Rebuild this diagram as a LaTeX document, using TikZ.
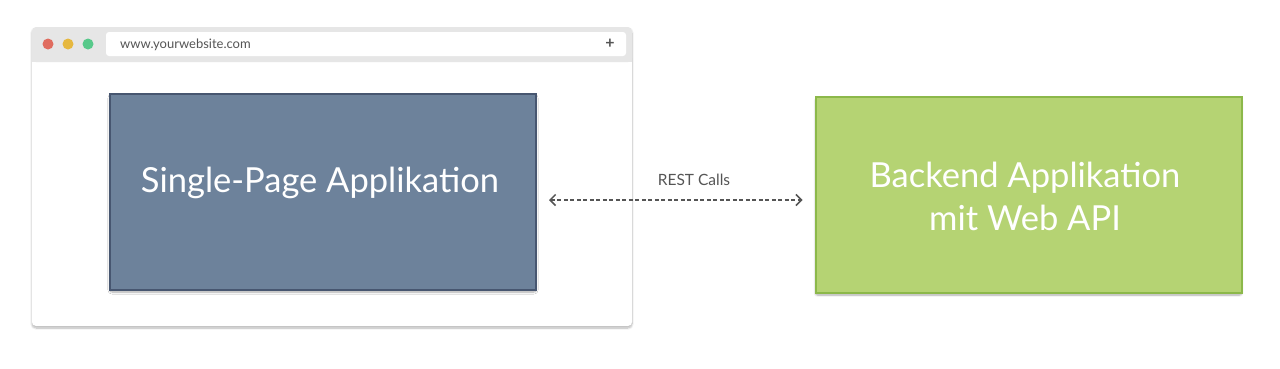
\documentclass[tikz,border=0pt]{standalone}
\usepackage{fontspec}
\setmainfont{Lato}
\usetikzlibrary{shadows.blur,arrows.meta}
\definecolor{spa}{HTML}{6D829B}
\definecolor{spaborder}{HTML}{475670}
\definecolor{be}{HTML}{B5D373}
\definecolor{beborder}{HTML}{8CB84A}
\definecolor{hdr}{HTML}{E6E6E6}
\definecolor{dred}{HTML}{E06C5F}
\definecolor{dyel}{HTML}{E6B83F}
\definecolor{dgrn}{HTML}{57C98A}
\definecolor{txtgray}{HTML}{555555}
\tikzset{
  mainbox/.style={draw, line width=2pt, minimum width=426pt, minimum height=196pt, inner sep=0pt,
    blur shadow={shadow xshift=0pt, shadow yshift=-2pt, shadow blur steps=8, shadow blur extra rounding=2pt, shadow opacity=35}},
  boxtext/.style={inner sep=0pt, font=\fontsize{34.5}{43}\selectfont, text=white, align=center},
  dot/.style={circle, inner sep=0pt, minimum size=11pt},
}
\begin{document}
\begin{tikzpicture}[x=1pt,y=-1pt]
\useasboundingbox (0,0) rectangle (1280,368);
% browser window
\node[fill=white, rounded corners=4pt, minimum width=600pt, minimum height=299pt, inner sep=0pt,
  blur shadow={shadow xshift=0pt, shadow yshift=-2pt, shadow blur steps=8, shadow opacity=30}] (win) at (332,176.5) {};
\fill[hdr, rounded corners=4pt] (32,27) rectangle (632,62);
\fill[hdr] (32,50) rectangle (632,62);
\node[fill=white, rounded corners=3pt, minimum width=520pt, minimum height=24pt, inner sep=0pt] (addr) at (366,44) {};
\node[dot, fill=dred] (d1) at (48,44) {};
\node[dot, fill=dyel] (d2) at (68,44) {};
\node[dot, fill=dgrn] (d3) at (88,44) {};
\node[anchor=west, inner sep=0pt, text=txtgray, font=\fontsize{13}{15}\selectfont] (url) at (120,44.5) {www.yourwebsite.com};
\node[inner sep=0pt, text=txtgray, font=\fontsize{16}{16}\selectfont\bfseries] (plus) at (610,43.5) {+};
% main boxes
\node[mainbox, fill=spa, draw=spaborder] (spa) at (323,192) {};
\node[boxtext] (spatext) at (320,183) {Single-Page Applikation};
\node[mainbox, fill=be, draw=beborder] (be) at (1028.5,195) {};
\node[boxtext] (betext) at (1025,196) {Backend Applikation\\mit Web API};
% connector
\draw[txtgray, line width=1.5pt, dash pattern=on 4pt off 2.5pt, {Straight Barb[length=5.5pt,width=11pt]}-{Straight Barb[length=5.5pt,width=11pt]}]
  ([xshift=12pt,yshift=-8pt]spa.east) -- ([xshift=-12pt,yshift=-5pt]be.west);
\node[font=\fontsize{15.5}{18}\selectfont, text=txtgray, inner sep=0pt] (lbl) at (694,180) {REST Calls};
\end{tikzpicture}
\end{document}
